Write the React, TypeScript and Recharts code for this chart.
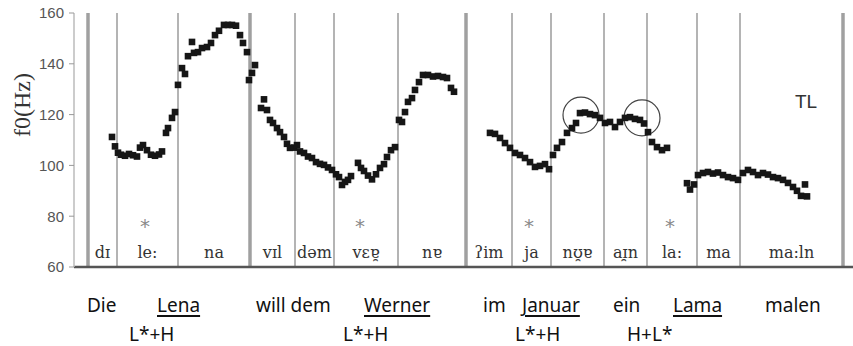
import React from 'react';
import { ScatterChart, Scatter, XAxis, YAxis, ReferenceLine, ReferenceDot } from 'recharts';

// f0 track: time (ms) and pitch (Hz)
const f0Times = [
  114, 123, 132, 141, 153, 165, 177, 189, 198, 207, 219, 231, 243, 255, 264, 276, 282, 294, 303,
  312, 324, 333, 342, 354, 360, 372, 384, 399, 411, 423, 435, 450, 462, 474, 486, 498, 507, 519,
  525, 534, 543, 561, 570, 579, 588, 597, 609, 618, 630, 639, 648, 660, 669, 678, 690, 702, 714,
  726, 738, 750, 762, 774, 786, 795, 804, 813, 822, 831, 852, 861, 870, 882, 894, 906, 918, 930,
  939, 951, 963, 975, 984, 993, 1002, 1014, 1023, 1035, 1047, 1062, 1077, 1092, 1107, 1119, 1131,
  1140, 1248, 1263, 1278, 1293, 1308, 1323, 1338, 1353, 1368, 1383, 1398, 1413, 1425, 1437, 1449,
  1464, 1479, 1494, 1506, 1518, 1533, 1548, 1563, 1578, 1593, 1608, 1623, 1638, 1653, 1668, 1683,
  1698, 1710, 1722, 1734, 1749, 1764, 1779, 1839, 1848, 1860, 1872, 1887, 1902, 1917, 1932, 1947,
  1962, 1977, 1992, 2007, 2022, 2037, 2052, 2067, 2082, 2097, 2112, 2127, 2142, 2157, 2169, 2181,
  2193, 2199,
];
const f0Values = [
  111.2, 107.5, 105, 104.2, 103.8, 104.5, 104, 103.5, 107, 108, 106, 104.2, 103.8, 104.3, 105.5,
  112.8, 114.7, 118.7, 121, 131.7, 138.3, 136, 143, 148.6, 144.3, 144.6, 146.2, 146.6, 148.2,
  151.3, 153, 155.3, 155.3, 155.3, 155, 151.3, 148.2, 144.6, 133.6, 136.4, 139.5, 122.6, 126,
  121.8, 117.9, 116.7, 114.7, 113.1, 111.2, 108.5, 106.9, 107, 108, 105.5, 104.9, 103.5, 102.9,
  101.3, 100.6, 100.2, 99.2, 98.2, 96.5, 95.4, 92.3, 93.5, 94.3, 95.8, 101, 99, 97.8, 96, 94.5,
  96.5, 99, 100.5, 103.3, 106, 107.2, 117.9, 117.1, 121, 125, 126.5, 129.7, 132.8, 135.6, 135.6,
  135, 135.2, 134.8, 134.4, 130.5, 129, 112.8, 112.4, 110.8, 108.8, 106.9, 104.9, 104.1, 102.9,
  101.3, 99.4, 99.8, 100.5, 98.5, 104.1, 106.9, 109.2, 112.8, 114.7, 116.7, 120.6, 120.8, 120.2,
  119.8, 118.7, 116.7, 117.1, 115.1, 117.1, 118.7, 119, 118.3, 117.9, 116.5, 113.1, 109.2, 107.2,
  106, 106.9, 93, 90.5, 92.5, 96.2, 97, 97.4, 96.8, 97.2, 96.2, 95.4, 95, 94.3, 97, 98.2, 97.4,
  96.2, 97, 96.4, 95.4, 95, 94.3, 93.1, 91.5, 90, 88, 92.5, 87.8,
];

// syllable boundaries (ms) and labels
const boundaries = [42, 129, 312, 528, 663, 780, 972, 1176, 1314, 1431, 1590, 1719, 1869, 1998, 2307];
const wordGroupBoundaries = [42, 528, 1176, 2307];
const syllables = ['dɪ', 'le:', 'na', 'vɪl', 'dəm', 'vɛɐ̯', 'nɐ', 'ʔim', 'ja', 'nʊ̯ɐ', 'aɪ̯n', 'la:', 'ma', 'ma:ln'];
const stressTimes = [213, 858, 1365, 1788];
const circleTimes = [1521, 1704];
const circleValues = [119.8, 118.7];
const yTicks = [60, 80, 100, 120, 140, 160];

const words = ['Die', 'Lena', 'will dem', 'Werner', 'im', 'Januar', 'ein', 'Lama', 'malen'];
const accentedWords = ['Lena', 'Werner', 'Januar', 'Lama'];
const pitchAccents = ['L*+H', 'L*+H', 'L*+H', 'H+L*'];

// layout
const wordLeft = [87, 157, 256, 364, 483, 522, 613, 673, 765];
const accentLeft = [129, 343, 515, 627];
const LABEL_F = 63.5;
const STAR_F = 73.2;

const points = f0Times.map((t, i) => ({ t, f: f0Values[i] }));
const labelPoints = syllables.map((label, i) => ({
  t: (boundaries[i] + boundaries[i + 1]) / 2,
  f: LABEL_F,
  label,
}));
const starPoints = stressTimes.map((t) => ({ t, f: STAR_F }));

const Square = (props: any) => (
  <rect x={props.cx - 3.3} y={props.cy - 3.3} width={6.6} height={6.6} fill="#161616" />
);

const SyllableLabel = (props: any) => (
  <text x={props.cx} y={props.cy} textAnchor="middle" fontFamily="DejaVu Serif" fontSize={16} fill="#333">
    {props.payload.label}
  </text>
);

const Star = (props: any) => (
  <text x={props.cx} y={props.cy} textAnchor="middle" fontFamily="DejaVu Sans" fontSize={20} fill="#8a8a8a">
    *
  </text>
);

const textStyle: React.CSSProperties = {
  position: 'absolute',
  fontFamily: 'Noto Sans',
  fontSize: 19,
  lineHeight: '19px',
  color: '#111',
  whiteSpace: 'nowrap',
};

export default function App() {
  return (
    <div style={{ position: 'absolute', left: 0, top: 0, width: 853, height: 346, background: '#fff' }}>
      <ScatterChart width={853} height={280} margin={{ top: 13, right: 0, left: 0, bottom: 13 }}>
        <XAxis type="number" dataKey="t" domain={[0, 2337]} hide />
        <YAxis
          type="number"
          dataKey="f"
          domain={[60, 160]}
          ticks={yTicks}
          width={74}
          tickSize={5}
          tickMargin={5}
          axisLine={{ stroke: '#bbb', strokeWidth: 1.5 }}
          tickLine={{ stroke: '#999' }}
          tick={{ fill: '#555', fontSize: 15, fontFamily: 'Liberation Sans' }}
        />
        {boundaries.map((b) => {
          const thick = wordGroupBoundaries.includes(b);
          return (
            <ReferenceLine
              key={`b-${b}`}
              x={b}
              stroke={thick ? '#a0a0a0' : '#b4b4b4'}
              strokeWidth={thick ? 3.5 : 2}
            />
          );
        })}
        <ReferenceLine y={60} stroke="#555" strokeWidth={2.5} />
        {circleTimes.map((t, i) => (
          <ReferenceDot key={`c-${t}`} x={t} y={circleValues[i]} r={18} fill="none" stroke="#444" strokeWidth={1.2} />
        ))}
        <Scatter data={points} shape={Square} isAnimationActive={false} />
        <Scatter data={labelPoints} shape={SyllableLabel} isAnimationActive={false} />
        <Scatter data={starPoints} shape={Star} isAnimationActive={false} />
      </ScatterChart>
      <svg width={853} height={346} style={{ position: 'absolute', left: 0, top: 0, pointerEvents: 'none' }}>
        <text
          x={22}
          y={105}
          transform="rotate(-90 22 105)"
          textAnchor="middle"
          dominantBaseline="central"
          fontFamily="Liberation Serif"
          fontSize={24}
          fill="#333"
        >
          f0(Hz)
        </text>
        <text x={806} y={108} textAnchor="middle" fontFamily="Liberation Sans" fontSize={19} fill="#333">
          TL
        </text>
      </svg>
      {words.map((w, i) => (
        <span
          key={w}
          style={{
            ...textStyle,
            left: wordLeft[i],
            top: 296,
            textDecoration: accentedWords.includes(w) ? 'underline' : 'none',
            textDecorationThickness: 2,
            textUnderlineOffset: 3,
          }}
        >
          {w}
        </span>
      ))}
      {pitchAccents.map((a, i) => (
        <span key={`a-${i}`} style={{ ...textStyle, left: accentLeft[i], top: 325 }}>
          {a}
        </span>
      ))}
    </div>
  );
}
